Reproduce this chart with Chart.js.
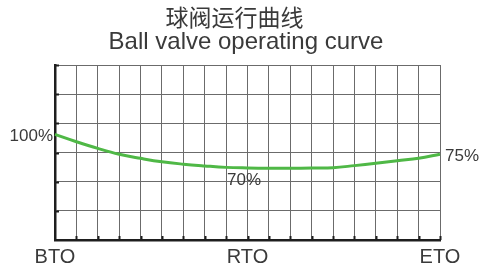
<!DOCTYPE html>
<html>
<head>
<meta charset="utf-8">
<script src="https://cdn.jsdelivr.net/npm/chart.js@4/dist/chart.umd.min.js"></script>
<style>
  html, body { margin: 0; padding: 0; background: #fff; }
  #curva { display: block; }
</style>
</head>
<body>
<canvas id="curva" width="481" height="271"></canvas>
<script>
// Dados (unidades de grade, 0..6)
const posicoes = ['0','1','2','3','4','5','6','7','8','9','10','11','12','13','14','15','16','17','18'];
const rotulosEixo = { 0: 'BTO', 9: 'RTO', 18: 'ETO' };
const torque = [3.62, 3.37, 3.14, 2.94, 2.80, 2.68, 2.60, 2.54, 2.49, 2.47, 2.46, 2.46, 2.47, 2.48, 2.55, 2.63, 2.72, 2.80, 2.94];
const textosPontos = ['100%', '70%', '75%'];
const indicesPontos = [0, 8, 18];

const tituloCN = '球阀运行曲线\u3000';
const tituloEN = 'Ball valve operating curve';

const fonte = "'Liberation Sans', Arial, sans-serif";
const corTexto = '#3a3a3a';
const corGrade = '#6b6b6b';
const corEixo = '#1e1e1e';

// marcas internas nos eixos + rótulos de porcentagem
const extras = {
    id: 'extras',
    afterDraw(chart) {
        const ctx = chart.ctx;
        const area = chart.chartArea;
        const sx = chart.scales.x;
        const sy = chart.scales.y;
        ctx.save();
        ctx.strokeStyle = corEixo;
        ctx.lineWidth = 2;
        sy.ticks.forEach(t => {
            if (t.value === 0) return;
            const y = Math.round(sy.getPixelForValue(t.value)) + 0.5;
            ctx.beginPath();
            ctx.moveTo(area.left, y);
            ctx.lineTo(area.left + 4, y);
            ctx.stroke();
        });
        posicoes.forEach((p, i) => {
            if (i === 0) return;
            const x = Math.round(sx.getPixelForValue(i)) + 0.5;
            ctx.beginPath();
            ctx.moveTo(x, area.bottom);
            ctx.lineTo(x, area.bottom - 4);
            ctx.stroke();
        });

        const meta = chart.getDatasetMeta(0);
        ctx.fillStyle = corTexto;
        ctx.font = '17px ' + fonte;
        ctx.textBaseline = 'middle';
        indicesPontos.forEach((idx, k) => {
            const pt = meta.data[idx];
            if (k === 0) {
                ctx.textAlign = 'right';
                ctx.fillText(textosPontos[k], pt.x - 2, pt.y + 2);
            } else if (k === 1) {
                ctx.textAlign = 'left';
                ctx.fillText(textosPontos[k], pt.x + 1, pt.y + 13);
            } else {
                ctx.textAlign = 'left';
                ctx.fillText(textosPontos[k], pt.x + 5, pt.y + 2);
            }
        });
        ctx.restore();
    }
};

const ctx = document.getElementById('curva').getContext('2d');
new Chart(ctx, {
    type: 'line',
    data: {
        labels: posicoes,
        datasets: [{
            data: torque,
            borderColor: '#4fb846',
            borderWidth: 3,
            pointRadius: 0,
            tension: 0.4,
            fill: false
        }]
    },
    options: {
        responsive: false,
        animation: false,
        layout: { padding: { left: 11, right: 0, top: 0, bottom: 0 } },
        plugins: {
            legend: { display: false },
            tooltip: { enabled: false },
            title: {
                display: true,
                text: tituloCN,
                color: corTexto,
                font: { family: "'Noto Sans CJK SC', sans-serif", size: 23, weight: 'normal', lineHeight: 1 },
                padding: { top: 6, bottom: 0 }
            },
            subtitle: {
                display: true,
                text: tituloEN,
                color: corTexto,
                font: { family: fonte, size: 24, weight: 'normal', lineHeight: 1 },
                padding: { top: 1, bottom: 11 }
            }
        },
        scales: {
            x: {
                grid: { color: corGrade, lineWidth: 1, drawTicks: false },
                border: { color: corEixo, width: 2.5 },
                ticks: {
                    autoSkip: false,
                    maxRotation: 0,
                    padding: 5,
                    color: corTexto,
                    font: { family: fonte, size: 20 },
                    callback: (v, i) => rotulosEixo[i] || ''
                },
                afterFit: s => { s.height = 31; }
            },
            y: {
                min: 0,
                max: 6,
                ticks: { stepSize: 1, display: false },
                grid: { color: corGrade, lineWidth: 1, drawTicks: false },
                border: { color: corEixo, width: 2.5 },
                afterFit: s => { s.width = 44; }
            },
            y2: {
                position: 'right',
                display: true,
                grid: { display: false },
                border: { display: false },
                ticks: { display: false },
                afterFit: s => { s.width = 41; }
            }
        }
    },
    plugins: [extras]
});
</script>
</body>
</html>
